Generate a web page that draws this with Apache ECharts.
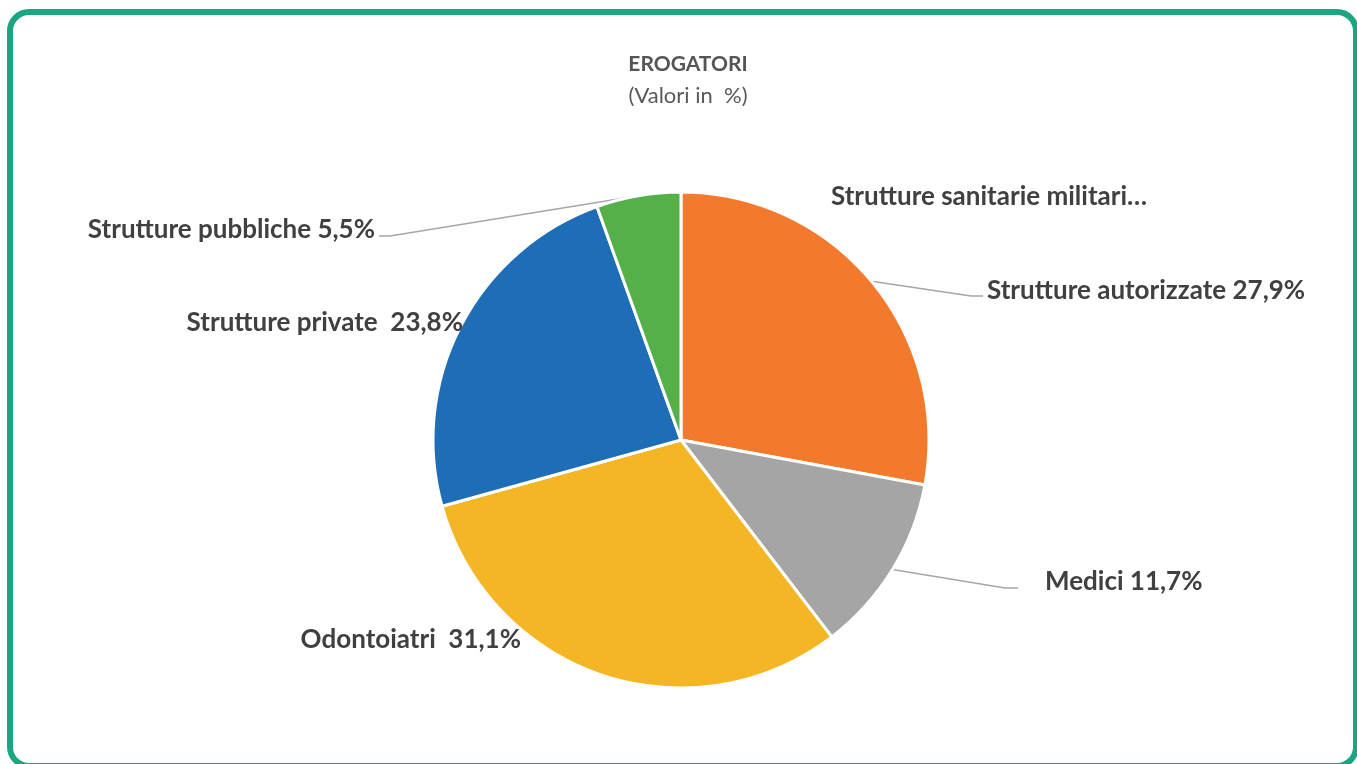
<!DOCTYPE html>
<html>
<head>
<meta charset="utf-8">
<title>Erogatori</title>
<script src="https://cdn.jsdelivr.net/npm/echarts@6/dist/echarts.min.js"></script>
<style>
    html, body { margin: 0; padding: 0; background: #fff; overflow: hidden; }
    #frame {
        position: absolute;
        left: 7px;
        top: 9px;
        width: 1340px;
        height: 748px;
        border: 6px solid #1ba583;
        border-radius: 22px;
    }
    #chart { position: absolute; left: 0; top: 0; width: 1357px; height: 764px; }
</style>
</head>
<body>
<div id="frame"></div>
<div id="chart"></div>
<script>
const categories = [
    "Strutture sanitarie militari…",
    "Strutture autorizzate",
    "Medici",
    "Odontoiatri",
    "Strutture private",
    "Strutture pubbliche"
];
const values = [0.0, 27.9, 11.7, 31.1, 23.8, 5.5];
const labelSpacing = ["", " ", " ", "  ", "  ", " "];
const colors = ["#7f7f7f", "#f37a2d", "#a5a5a5", "#f4b625", "#1e6db7", "#55b04a"];

// label anchors (text placement, not data)
const labelAnchors = [
    { x: 831, y: 197, align: "left", line: false },
    { x: 987, y: 291, align: "left", line: true, bend: [-16, 5], end: [-4, 5] },
    { x: 1045, y: 582, align: "left", line: true, bend: [-40, 6], end: [-27, 6] },
    { x: 521, y: 640, align: "right", line: false },
    { x: 463, y: 323, align: "right", line: false },
    { x: 375, y: 230, align: "right", line: true, bend: [15, 6], end: [4, 6] }
];

const fmt = (v) => v.toFixed(1).replace(".", ",") + "%";

const getOption = () => {
    return {
        color: colors,
        title: {
            text: "EROGATORI",
            subtext: "(Valori in  %)",
            left: 683,
            textAlign: "center",
            top: 49,
            itemGap: 10,
            textStyle: {
                fontFamily: "Lato",
                fontSize: 21,
                fontWeight: "bold",
                color: "#555555"
            },
            subtextStyle: {
                fontFamily: "Lato",
                fontSize: 22,
                color: "#595959"
            }
        },
        series: [
            {
                type: "pie",
                center: [681, 440],
                radius: 248,
                startAngle: 90,
                clockwise: true,
                avoidLabelOverlap: false,
                minShowLabelAngle: 0,
                itemStyle: {
                    borderColor: "#fff",
                    borderWidth: 3
                },
                label: {
                    show: true,
                    position: "outside",
                    fontFamily: "Lato",
                    fontSize: 26,
                    fontWeight: "bold",
                    color: "#404040",
                    formatter: (p) => {
                        if (p.dataIndex === 0) return p.name;
                        return p.name + labelSpacing[p.dataIndex] + fmt(p.value);
                    }
                },
                labelLine: {
                    show: true,
                    length: 10,
                    length2: 10,
                    lineStyle: { color: "#a6a6a6", width: 1.5 }
                },
                labelLayout: (params) => {
                    const a = labelAnchors[params.dataIndex];
                    const res = { x: a.x, y: a.y, align: a.align, verticalAlign: "middle" };
                    if (a.line && params.labelLinePoints) {
                        const p0 = params.labelLinePoints[0];
                        res.labelLinePoints = [
                            p0,
                            [a.x + a.bend[0], a.y + a.bend[1]],
                            [a.x + a.end[0], a.y + a.end[1]]
                        ];
                    }
                    return res;
                },
                emphasis: { disabled: true },
                data: categories.map((name, i) => ({
                    name: name,
                    value: values[i],
                    labelLine: { show: labelAnchors[i].line }
                }))
            }
        ]
    };
};

const initChart = () => {
    const chart = echarts.init(document.getElementById("chart"));
    chart.setOption(getOption());
};

window.addEventListener("load", () => {
    initChart();
});
</script>
</body>
</html>
